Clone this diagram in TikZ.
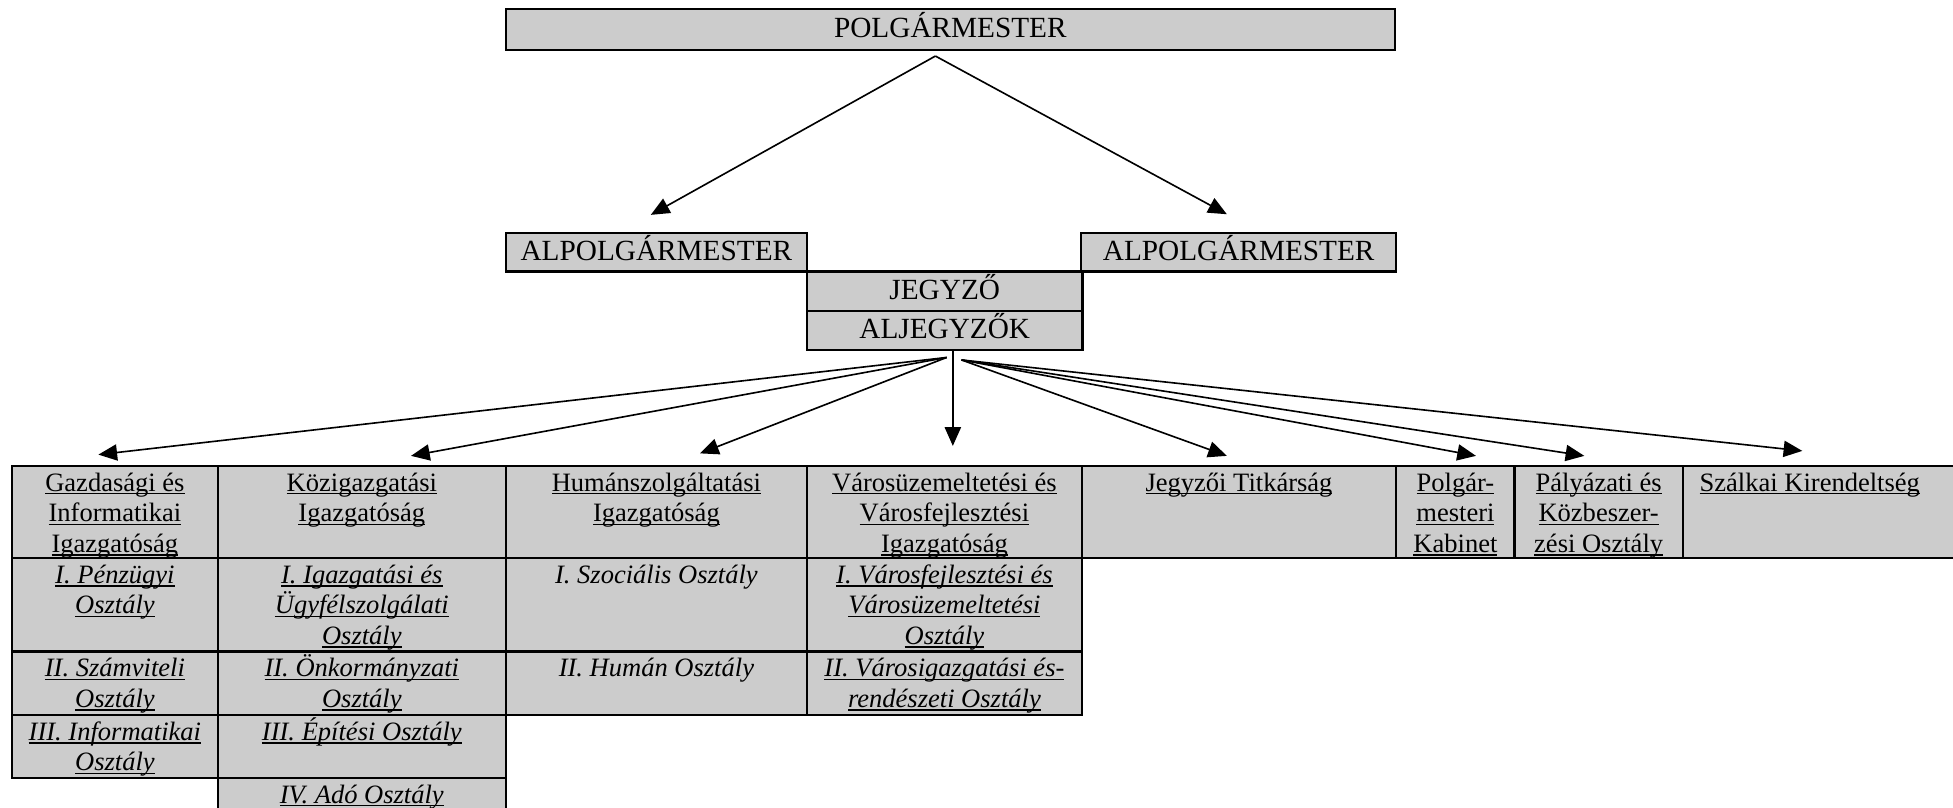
\documentclass[tikz,border=0pt]{standalone}
\usepackage{fontspec}
\setmainfont{Liberation Serif}
\usetikzlibrary{arrows.meta}
\definecolor{cellgray}{RGB}{204,204,204}
\newcommand\ulin[1]{\setbox0\hbox{#1}\rlap{\rule[-1.3pt]{\wd0}{0.6pt}}\box0}
\newcommand\fs{\rule{0pt}{10pt}}
\begin{document}
\begin{tikzpicture}[x=0.5pt,y=-0.5pt,
  box/.style={draw, fill=cellgray, line width=0.9pt, inner sep=0pt,
    font=\fontsize{11.75}{14}\selectfont, text height=8pt, text depth=1.4pt},
  cellbox/.style={draw, fill=cellgray, line width=0.9pt},
  txt/.style={anchor=north, inner sep=0pt, align=center,
    font=\fontsize{10.65}{12.25}\selectfont},
  itxt/.style={txt, font=\fontsize{10.65}{12.25}\selectfont\itshape},
  arr/.style={line width=0.65pt, -{Triangle[length=7.5pt,width=6.5pt]}},
  ln/.style={line width=0.6pt}]
\useasboundingbox (0,0) rectangle (1568,648);

% top boxes
\node[box, minimum width=357pt, minimum height=16.25pt] (polg) at (763,23.75) {POLGÁRMESTER};
\node[box, minimum width=121pt, minimum height=15.5pt] (alpL) at (527,202.5) {ALPOLGÁRMESTER};
\node[box, minimum width=126.5pt, minimum height=15.5pt] (alpR) at (994.5,202.5) {ALPOLGÁRMESTER};
\node[box, minimum width=110.5pt, minimum height=15.75pt] (jegy) at (758.5,233.75) {JEGYZŐ};
\node[box, minimum width=110.5pt, minimum height=15.75pt] (aljegy) at (758.5,265.25) {ALJEGYZŐK};

% table cells
\foreach \xa/\xb in {9.5/175,175/406,406/648,648/868.5,868.5/1121,1121/1216,1216/1351,1351/1580}
  \filldraw[cellbox] (\xa,374) rectangle (\xb,448);
\foreach \xa/\xb in {9.5/175,175/406,406/648,648/868.5}{
  \filldraw[cellbox] (\xa,448) rectangle (\xb,523);
  \filldraw[cellbox] (\xa,523) rectangle (\xb,574);
}
\filldraw[cellbox] (9.5,574) rectangle (175,624.5);
\filldraw[cellbox] (175,574) rectangle (406,624.5);
\filldraw[cellbox] (175,624.5) rectangle (406,665);

% texts row 1
\node[txt] (t11) at (92.25,374) {\fs\ulin{Gazdasági és}\\\ulin{Informatikai}\\\ulin{Igazgatóság}};
\node[txt] (t12) at (290.5,374) {\fs\ulin{Közigazgatási}\\\ulin{Igazgatóság}};
\node[txt] (t13) at (527,374) {\fs\ulin{Humánszolgáltatási}\\\ulin{Igazgatóság}};
\node[txt] (t14) at (758.25,374) {\fs\ulin{Városüzemeltetési és}\\\ulin{Városfejlesztési}\\\ulin{Igazgatóság}};
\node[txt] (t15) at (994.75,374) {\fs\ulin{Jegyzői Titkárság}};
\node[txt] (t16) at (1168.5,374) {\fs\ulin{Polgár-}\\\ulin{mesteri}\\\ulin{Kabinet}};
\node[txt] (t17) at (1283.5,374) {\fs\ulin{Pályázati és}\\\ulin{Közbeszer-}\\\ulin{zési Osztály}};
\node[txt] (t18) at (1453,374) {\fs\ulin{Szálkai Kirendeltség}};

% row 2
\node[itxt] (t21) at (92.25,448) {\fs\ulin{I. Pénzügyi}\\\ulin{Osztály}};
\node[itxt] (t22) at (290.5,448) {\fs\ulin{I. Igazgatási és}\\\ulin{Ügyfélszolgálati}\\\ulin{Osztály}};
\node[itxt] (t23) at (527,448) {\fs I. Szociális Osztály};
\node[itxt] (t24) at (758.25,448) {\fs\ulin{I. Városfejlesztési és}\\\ulin{Városüzemeltetési}\\\ulin{Osztály}};
% row 3
\node[itxt] (t31) at (92.25,523) {\fs\ulin{II. Számviteli}\\\ulin{Osztály}};
\node[itxt] (t32) at (290.5,523) {\fs\ulin{II. Önkormányzati}\\\ulin{Osztály}};
\node[itxt] (t33) at (527,523) {\fs II. Humán Osztály};
\node[itxt] (t34) at (758.25,523) {\fs\ulin{II. Városigazgatási és-}\\\ulin{rendészeti Osztály}};
% row 4, 5
\node[itxt] (t41) at (92.25,574) {\fs\ulin{III. Informatikai}\\\ulin{Osztály}};
\node[itxt] (t42) at (290.5,574) {\fs\ulin{III. Építési Osztály}};
\node[itxt] (t52) at (290.5,624.5) {\fs\ulin{IV. Adó Osztály}};

% connectors from POLGÁRMESTER
\coordinate (pa) at (751,45);
\coordinate (ta) at (522.5,172.5);
\coordinate (tb) at (985,172);
\draw[arr] (pa) -- (ta);
\draw[arr] (pa) -- (tb);

% fan from ALJEGYZŐK
\coordinate (fl) at (760,287);
\coordinate (fr) at (772,289);
\coordinate (fc) at (765,281);
\coordinate (g1) at (79,365);
\coordinate (g2) at (330,366);
\coordinate (g3) at (562,364);
\coordinate (g4) at (765,358);
\coordinate (g5) at (985,366);
\coordinate (g6) at (1185,366);
\coordinate (g7) at (1272,366);
\coordinate (g8) at (1447,362);
\draw[arr] (fl) -- (g1);
\draw[arr] (fl) -- (g2);
\draw[arr] (fl) -- (g3);
\draw[arr] (fc) -- (g4);
\draw[arr] (fr) -- (g5);
\draw[arr] (fr) -- (g6);
\draw[arr] (fr) -- (g7);
\draw[arr] (fr) -- (g8);
\end{tikzpicture}
\end{document}
